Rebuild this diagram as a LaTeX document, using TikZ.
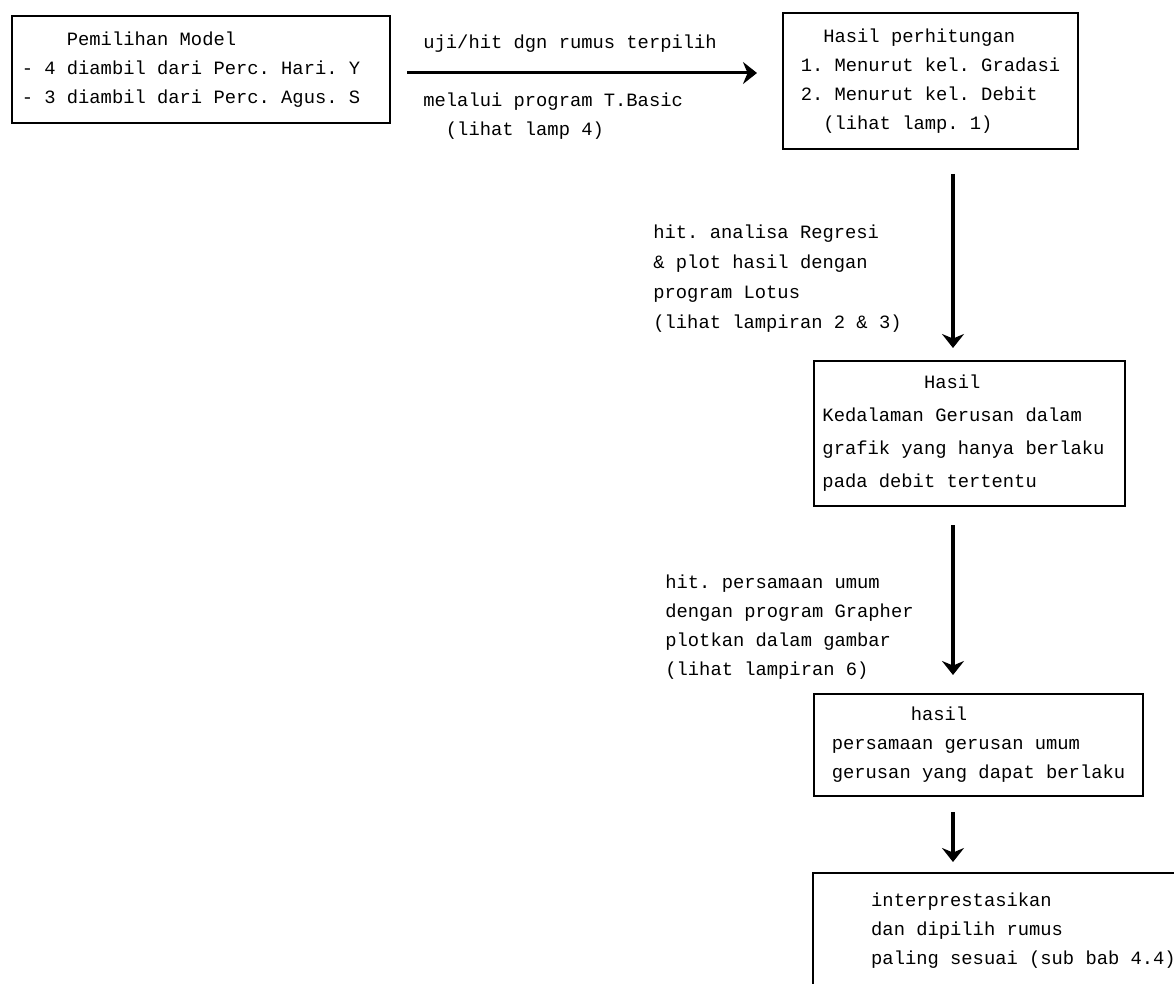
\documentclass[tikz,border=0pt]{standalone}
\usepackage{fontspec}
\setmonofont{Liberation Mono}
\usetikzlibrary{arrows.meta}
\newcommand{\sk}[1]{\hspace*{#1\dimexpr0.6em\relax}}

\begin{document}
\begin{tikzpicture}[x=0.5pt, y=-0.5pt]
		\tikzset{>={Stealth[length=7pt, width=11pt]}, font=\ttfamily\fontsize{9.4}{14.5}\selectfont,
			box/.style={draw, line width=1pt, anchor=north west, align=left, inner sep=0pt},
			flow/.style={->, line width=1.75pt},
			note/.style={anchor=north west, align=left, inner sep=0pt}}

		\useasboundingbox (0,0) rectangle (1174,984);
		\coordinate (spine) at (953,0);

		\node[box, minimum width=189pt, minimum height=53.5pt] (model) at (11,15)
			{\sk{4}Pemilihan Model\\- 4 diambil dari Perc. Hari. Y\hspace*{10pt}\mbox{}\\- 3 diambil dari Perc. Agus. S};
		\node[box, minimum width=147.5pt, minimum height=68pt] (hitung) at (782,12)
			{\sk{2}Hasil perhitungan\\1. Menurut kel. Gradasi\\2. Menurut kel. Debit\\\sk{2}(lihat lamp. 1)};
		\node[box, minimum width=155.5pt, minimum height=72.5pt, font=\ttfamily\fontsize{9.4}{16.5}\selectfont] (grafik) at (813,360)
			{\sk{9}Hasil\\Kedalaman Gerusan dalam\\grafik yang hanya berlaku\hspace*{6pt}\mbox{}\\pada debit tertentu};
		\node[box, minimum width=164.5pt, minimum height=51pt] (umum) at (813,693)
			{\sk{7}hasil\\persamaan gerusan umum\\gerusan yang dapat berlaku};
		\begin{scope}
			\clip (0,0) rectangle (1174,984);
			\node[box, minimum width=210.5pt, minimum height=58pt] (tafsir) at (812,872)
				{interprestasikan\\dan dipilih rumus\\paling sesuai (sub bab 4.4)};
		\end{scope}

		% keterangan panah
		\node[note] (uji) at (423,34) {uji/hit dgn rumus terpilih};
		\node[note] (basic) at (423,92) {melalui program T.Basic\\\sk{2}(lihat lamp 4)};
		\node[note, font=\ttfamily\fontsize{9.4}{15}\selectfont] (lotus) at (653,224)
			{hit. analisa Regresi\\\& plot hasil dengan\\program Lotus\\(lihat lampiran 2 \& 3)};
		\node[note] (grapher) at (665,574)
			{hit. persamaan umum\\dengan program Grapher\\plotkan dalam gambar\\(lihat lampiran 6)};

		\draw[flow, line width=1.5pt, shorten <=8pt, shorten >=12.5pt]
			([yshift=-1.75pt]model.east) -- ([yshift=-1.75pt]model.east -| hitung.west);
		\draw[flow, shorten <=12pt, shorten >=6pt] (hitung.south -| spine) -- (grafik.north -| spine);
		\draw[flow, shorten <=9pt, shorten >=9pt] (grafik.south -| spine) -- (umum.north -| spine);
		\draw[flow, shorten <=7.5pt, shorten >=5pt] (umum.south -| spine) -- (tafsir.north -| spine);
	\end{tikzpicture}
\end{document}
